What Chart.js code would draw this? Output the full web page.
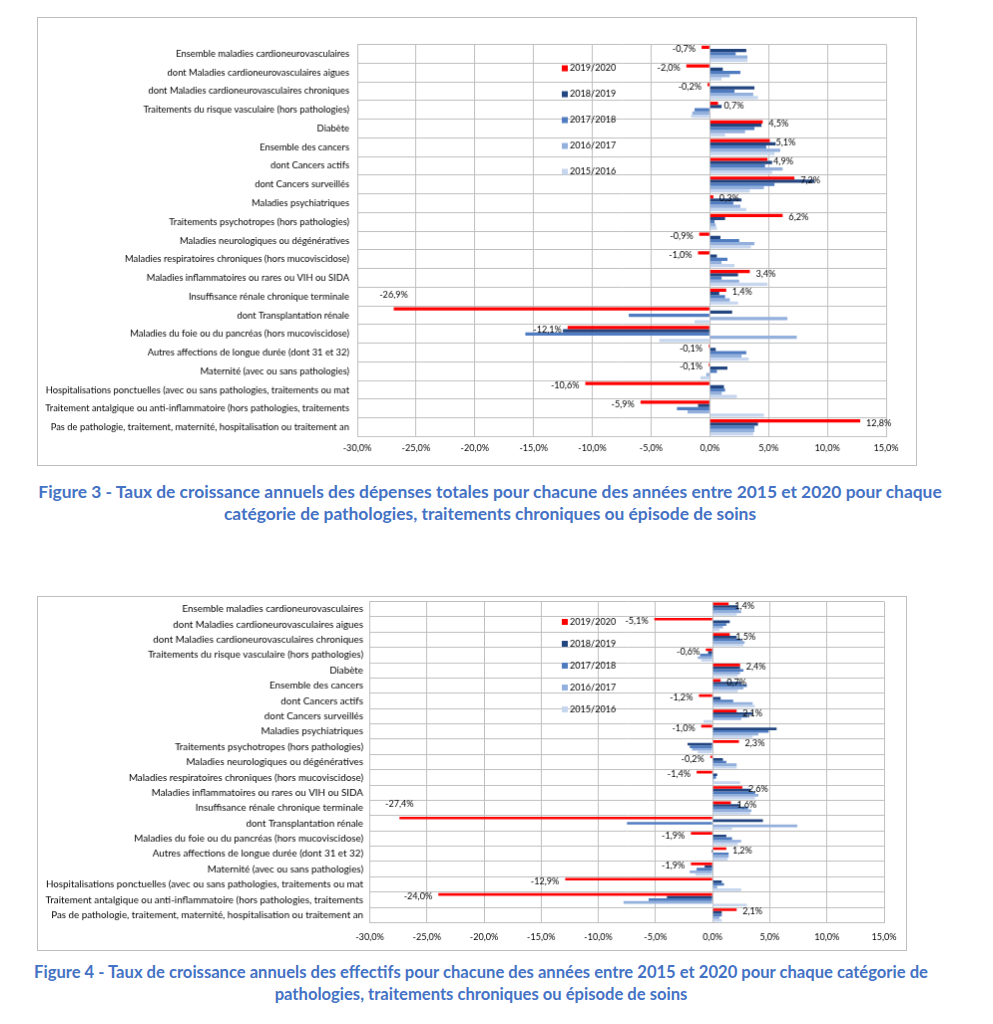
<!DOCTYPE html>
<html>
<head>
<meta charset="utf-8">
<script src="https://cdn.jsdelivr.net/npm/chart.js@4.4.0/dist/chart.umd.min.js"></script>
<style>
  body { margin: 0; background: #fff; width: 993px; height: 1024px; position: relative; overflow: hidden; }
  canvas { position: absolute; border: 1px solid #bfbfbf; }
  .title { position: absolute; text-align: center; color: #4472c4; font: bold 17.4px Lato, sans-serif; line-height: 22px; white-space: nowrap; }
</style>
</head>
<body>
<canvas id="fig3" width="880" height="449" style="left:37px;top:17px"></canvas>
<div class="title" style="left:0;width:980px;top:481px">Figure 3 - Taux de croissance annuels des dépenses totales pour chacune des années entre 2015 et 2020 pour chaque<br>catégorie de pathologies, traitements chroniques ou épisode de soins</div>
<canvas id="fig4" width="870" height="355" style="left:37px;top:596px"></canvas>
<div class="title" style="left:0;width:962px;top:961px;font-size:16.6px">Figure 4 - Taux de croissance annuels des effectifs pour chacune des années entre 2015 et 2020 pour chaque catégorie de<br>pathologies, traitements chroniques ou épisode de soins</div>

<script>
// categories (truncated as in the source chart)
const categories = [
  "Ensemble maladies cardioneurovasculaires",
  "dont Maladies cardioneurovasculaires aigues",
  "dont Maladies cardioneurovasculaires chroniques",
  "Traitements du risque vasculaire (hors pathologies)",
  "Diabète",
  "Ensemble des cancers",
  "dont Cancers actifs",
  "dont Cancers surveillés",
  "Maladies psychiatriques",
  "Traitements psychotropes (hors pathologies)",
  "Maladies neurologiques ou dégénératives",
  "Maladies respiratoires chroniques (hors mucoviscidose)",
  "Maladies inflammatoires ou rares ou VIH ou SIDA",
  "Insuffisance rénale chronique terminale",
  "dont Transplantation rénale",
  "Maladies du foie ou du pancréas (hors mucoviscidose)",
  "Autres affections de longue durée (dont 31 et 32)",
  "Maternité (avec ou sans pathologies)",
  "Hospitalisations ponctuelles (avec ou sans pathologies, traitements ou mat",
  "Traitement antalgique ou anti-inflammatoire (hors pathologies, traitements",
  "Pas de pathologie, traitement, maternité, hospitalisation ou traitement an"
];
const periods = ["2019/2020", "2018/2019", "2017/2018", "2016/2017", "2015/2016"];
const xTicks = [-30, -25, -20, -15, -10, -5, 0, 5, 10, 15];

// Figure 3 - dépenses totales (%)
const dep1920 = [-0.7, -2.0, -0.2, 0.7, 4.5, 5.1, 4.9, 7.2, 0.3, 6.2, -0.9, -1.0, 3.4, 1.4, -26.9, -12.1, -0.1, -0.1, -10.6, -5.9, 12.8];
const dep1819 = [3.1, 1.1, 3.8, 1.0, 4.4, 5.6, 5.3, 8.9, 2.7, 1.3, 0.9, 0.6, 2.4, 0.8, 1.9, -12.5, 0.5, 1.5, 1.2, -1.0, 4.1];
const dep1718 = [2.2, 2.6, 2.1, -1.3, 3.8, 4.8, 4.7, 5.5, 2.0, 0.4, 2.5, 1.5, 1.0, 1.3, -6.9, -15.7, 3.1, 0.6, 1.3, -2.8, 3.8];
const dep1617 = [3.2, 1.7, 3.7, -1.5, 3.0, 6.0, 6.2, 4.6, 2.6, 0.5, 3.8, 1.0, 2.5, 1.7, 6.6, 7.4, 2.7, -0.3, 1.0, -1.9, 3.8];
const dep1516 = [3.2, 1.0, 4.1, -1.6, 1.3, 5.5, 5.3, 3.4, 3.1, 0.6, 3.5, 2.1, 4.9, 2.4, -1.3, -4.3, 3.3, -0.8, 2.3, 4.6, 3.7];

// Figure 4 - effectifs (%)
const eff1920 = [1.4, -5.1, 1.5, -0.6, 2.4, 0.7, -1.2, 2.1, -1.0, 2.3, -0.2, -1.4, 2.6, 1.6, -27.4, -1.9, 1.2, -1.9, -12.9, -24.0, 2.1];
const eff1819 = [2.2, 1.5, 2.1, -0.4, 2.4, 2.5, 0.7, 3.5, 5.6, -2.2, 0.9, 0.4, 3.3, 2.4, 4.4, 1.2, -0.1, -0.7, 0.8, -4.0, 0.8];
const eff1718 = [2.3, 1.2, 2.5, -1.1, 2.7, 3.0, 1.8, 3.1, 4.9, -2.0, 1.2, 0.3, 3.7, 3.1, -7.5, 1.7, 1.4, -1.4, 1.0, -5.6, 0.8];
const eff1617 = [2.5, 0.9, 2.8, -1.3, 2.4, 2.7, 3.5, 2.5, 4.0, -1.8, 2.1, 0.1, 4.0, 3.4, 7.4, 2.5, 1.4, -2.0, 0.4, -7.8, 0.6];
const eff1516 = [2.1, 0.6, 2.7, -1.0, 2.2, 2.2, 3.7, -0.8, 3.5, -1.3, 2.1, 2.4, 3.7, 3.3, 1.7, 2.2, 1.3, -1.5, 2.5, 3.0, 0.8];

const colors = ["#ff0000", "#22457f", "#4f7cc0", "#93afdc", "#c6d6ee"];
const FONT = "Lato, 'Liberation Sans', sans-serif";

const fmtPct = v => v.toFixed(1).replace(".", ",") + "%";

// font size so that a sample string takes a given width (Calibri in the source is narrow)
function fitSize(sample, width) {
  const c = document.createElement("canvas").getContext("2d");
  c.font = "100px " + FONT;
  return Math.round(1000 * width / c.measureText(sample).width) / 10;
}

// labels on the 2019/2020 bars
const redLabels = {
  id: "redLabels",
  afterDatasetsDraw(chart, args, opts) {
    const ctx = chart.ctx;
    const values = chart.data.datasets[0].data;
    ctx.save();
    ctx.font = opts.size + "px " + FONT;
    ctx.fillStyle = "#000";
    ctx.textBaseline = "middle";
    chart.getDatasetMeta(0).data.forEach((bar, i) => {
      const v = values[i];
      let x = bar.x, y = bar.y + 2;
      if (v < -25) { ctx.textAlign = "center"; y = bar.y - 14; }
      else if (v < 0) { ctx.textAlign = "right"; x -= 6; }
      else { ctx.textAlign = "left"; x += 6; }
      ctx.fillText(fmtPct(v), x, y);
    });
    ctx.restore();
  }
};

// legend drawn inside the plot, like the Excel one
const boxLegend = {
  id: "boxLegend",
  afterDraw(chart, args, opts) {
    const ctx = chart.ctx;
    ctx.save();
    ctx.font = opts.size + "px " + FONT;
    ctx.textBaseline = "middle";
    ctx.textAlign = "left";
    chart.data.datasets.forEach((ds, i) => {
      const y = opts.top + i * opts.gap;
      ctx.fillStyle = ds.backgroundColor;
      ctx.fillRect(opts.left, y - 3, 6, 6);
      ctx.fillStyle = "#000";
      ctx.fillText(ds.label, opts.left + 8, y);
    });
    ctx.restore();
  }
};

function makeChart(id, series, g) {
  const H = document.getElementById(id).height;
  const catSize = fitSize(categories[0], g.sampleW);
  const numSize = fitSize("-30,0%", 28.5);
  return new Chart(document.getElementById(id), {
    type: "bar",
    data: {
      labels: categories,
      datasets: series.map((data, i) => ({
        label: periods[i],
        data: data,
        backgroundColor: colors[i],
        borderWidth: 0
      }))
    },
    options: {
      indexAxis: "y",
      responsive: false,
      animation: false,
      datasets: { bar: { categoryPercentage: 0.86, barPercentage: 1 } },
      layout: { padding: { top: g.top, right: g.right, left: 0, bottom: 0 } },
      scales: {
        x: {
          min: -30, max: 15,
          afterBuildTicks: s => { s.ticks = xTicks.map(v => ({ value: v })); },
          afterFit: s => { s.height = H - g.bottom; s.paddingLeft = 0; s.paddingRight = 0; },
          grid: { color: "#bfbfbf", drawTicks: false },
          border: { color: "#bfbfbf" },
          ticks: { color: "#000", padding: g.xPad, font: { family: FONT, size: numSize }, callback: v => fmtPct(v) }
        },
        y: {
          afterFit: s => { s.width = g.left; s.paddingTop = 0; s.paddingBottom = 0; },
          grid: { color: "#bfbfbf", drawTicks: false, offset: true },
          border: { color: "#bfbfbf" },
          ticks: { color: "#000", padding: g.yPad, autoSkip: false, font: { family: FONT, size: catSize } }
        }
      },
      plugins: {
        legend: { display: false },
        tooltip: { enabled: false },
        redLabels: { size: numSize },
        boxLegend: { size: numSize, left: 525, top: g.legTop, gap: g.legGap }
      }
    },
    plugins: [redLabels, boxLegend]
  });
}

makeChart("fig3", [dep1920, dep1819, dep1718, dep1617, dep1516],
  { left: 320, right: 30, top: 26.5, bottom: 420.5, xPad: 6, yPad: 8, sampleW: 174, legTop: 50.5, legGap: 26 });

makeChart("fig4", [eff1920, eff1819, eff1718, eff1617, eff1516],
  { left: 332.5, right: 22, top: 4.5, bottom: 327.5, xPad: 9, yPad: 6.5, sampleW: 181, legTop: 25, legGap: 22 });
</script>
</body>
</html>
